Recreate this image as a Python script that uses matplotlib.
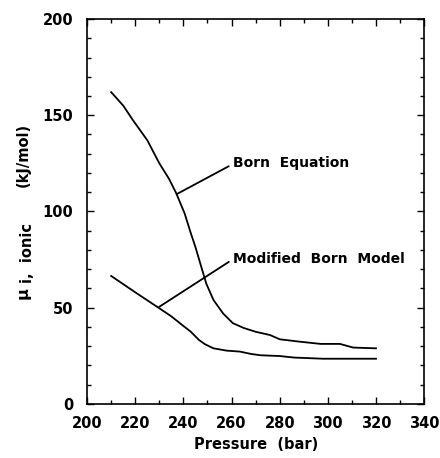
import matplotlib
matplotlib.use("Agg")
from matplotlib import pyplot as plt
from matplotlib.ticker import MultipleLocator

# Dados
pressao_born = [210, 215, 219, 225, 230, 234, 237, 240.5, 243, 245, 247, 249.5, 252.5, 256.5, 260.5, 265, 270, 276, 280, 288, 297, 305, 310.5, 320]
born_equacao = [162, 155, 147.5, 137, 125, 117, 109.5, 99, 89, 81.5, 73, 62.5, 54, 47, 42, 39.5, 37.5, 35.8, 33.6, 32.4, 31.2, 31.2, 29.3, 28.9]

pressao_mod = [210, 220, 230, 235, 239.5, 243, 246.5, 249, 252.5, 258, 263.5, 268, 272, 280, 286, 298, 320]
born_modificado = [66.5, 58, 49.7, 45.5, 41, 37.6, 33.2, 31, 28.9, 27.7, 27.2, 26, 25.3, 24.9, 24.1, 23.5, 23.5]

plt.rcParams['font.family'] = ['DejaVu Sans']
plt.rcParams['font.weight'] = 'bold'

fig = plt.figure(figsize=(4.4, 4.58), dpi=100)
ax = fig.add_axes([0.198, 0.118, 0.766, 0.8405])

ax.plot(pressao_born, born_equacao, color='black', lw=1.3)
ax.plot(pressao_mod, born_modificado, color='black', lw=1.3)

seta = dict(arrowstyle='-', color='black', lw=1.3, shrinkA=1, shrinkB=0, relpos=(0, 0.45))
ax.annotate('Born  Equation', xy=(237.2, 109), xytext=(260.5, 125),
            fontsize=10, fontweight='bold', va='center', ha='left', arrowprops=seta)
ax.annotate('Modified  Born  Model', xy=(230, 50.5), xytext=(260.5, 75.5),
            fontsize=10, fontweight='bold', va='center', ha='left', arrowprops=seta)

ax.set_xlim(200, 340)
ax.set_ylim(0, 200)
ax.xaxis.set_major_locator(MultipleLocator(20))
ax.xaxis.set_minor_locator(MultipleLocator(10))
ax.yaxis.set_major_locator(MultipleLocator(50))
ax.yaxis.set_minor_locator(MultipleLocator(10))
ax.tick_params(which='both', direction='in', top=True, right=True, labelsize=10.5)
ax.tick_params(which='major', length=5, width=1)
ax.tick_params(which='minor', length=3, width=1)
ax.tick_params(axis='x', which='major', pad=9)
ax.tick_params(axis='y', which='major', pad=10)
for s in ax.spines.values():
    s.set_linewidth(1.2)

ax.set_xlabel('Pressure  (bar)', fontsize=10.5, fontweight='bold', labelpad=4)

# rótulo do eixo y em pedaços (μ, índice e unidade)
fig.text(23 / 440, 1 - 293 / 458, 'μ', rotation=90, fontsize=11.5, fontweight='bold', ha='center', va='center')
fig.text(27.5 / 440, 1 - 253 / 458, 'i,  ionic', rotation=90, fontsize=10.5, fontweight='bold', ha='center', va='center')
fig.text(23 / 440, 1 - 155 / 458, '(kJ/mol)', rotation=90, fontsize=10.5, fontweight='bold', ha='center', va='center')

plt.savefig('out.png', dpi=100)
